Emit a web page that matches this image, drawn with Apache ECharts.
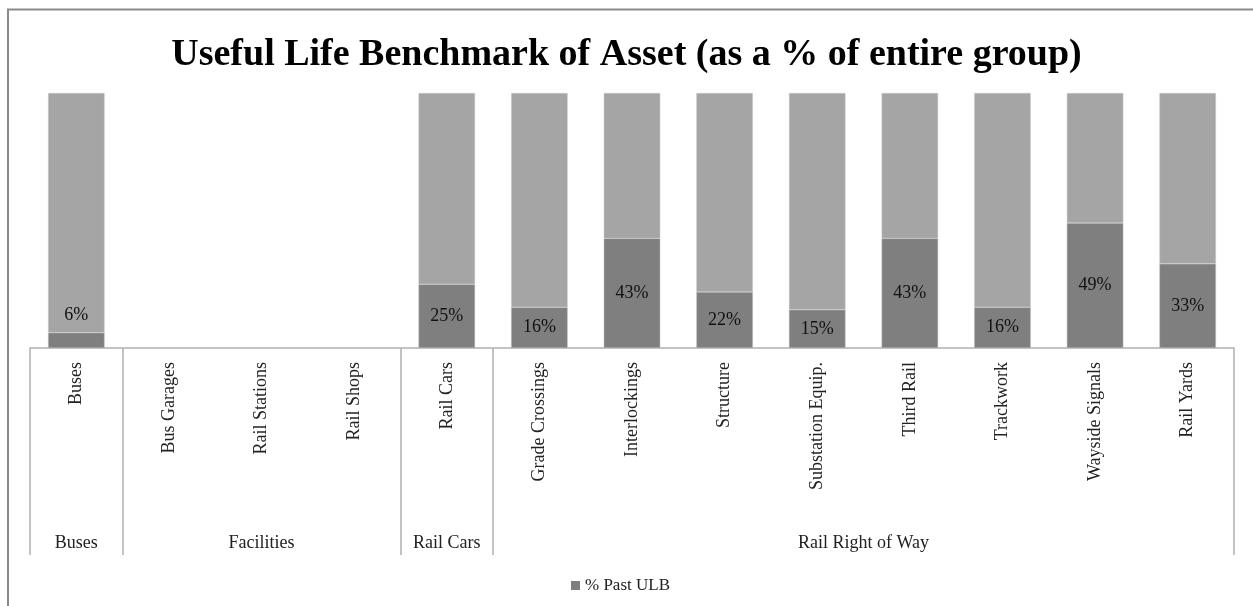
<!DOCTYPE html>
<html>
<head>
<meta charset="utf-8">
<title>Useful Life Benchmark of Asset</title>
<script src="https://cdn.jsdelivr.net/npm/echarts@6/dist/echarts.min.js"></script>
<style>
    html, body { margin: 0; padding: 0; background: #fff; }
    #chart { width: 1253px; height: 606px; }
</style>
</head>
<body>
<div id="chart"></div>
<script>
// asset categories, left to right
const categories = ['Buses', 'Bus Garages', 'Rail Stations', 'Rail Shops', 'Rail Cars',
    'Grade Crossings', 'Interlockings', 'Structure', 'Substation Equip.', 'Third Rail',
    'Trackwork', 'Wayside Signals', 'Rail Yards'];
// % past ULB (null = no data, facilities)
const pastUlb = [6, null, null, null, 25, 16, 43, 22, 15, 43, 16, 49, 33];
// groups under the categories
const groupNames = ['Buses', 'Facilities', 'Rail Cars', 'Rail Right of Way'];
const groupSizes = [1, 3, 1, 8];

const serif = '"Liberation Serif", "DejaVu Serif", serif';

// remainder up to 100% for the light grey part
const remainder = pastUlb.map(v => v === null ? null : 100 - v);

// second axis: 2 slots per category, labels on group centres, ticks on group edges
const halfSlots = [];
for (let i = 0; i <= categories.length * 2; i++) halfSlots.push('');
const edgeIdx = {};
let pos = 0;
edgeIdx[0] = true;
groupNames.forEach((name, i) => {
    halfSlots[pos + groupSizes[i]] = name;
    pos += groupSizes[i] * 2;
    edgeIdx[pos] = true;
});

const chart = echarts.init(document.getElementById('chart'));
const option = {
    animation: false,
    title: {
        text: 'Useful Life Benchmark of Asset (as a % of entire group)',
        left: 'center',
        top: 31,
        textStyle: { fontFamily: serif, fontSize: 38, fontWeight: 'bold', color: '#000' }
    },
    legend: {
        data: ['% Past ULB'],
        left: 566,
        top: 572,
        itemWidth: 9,
        itemHeight: 9,
        itemGap: 6,
        icon: 'rect',
        itemStyle: { borderWidth: 0 },
        textStyle: { fontFamily: serif, fontSize: 17, color: '#222' }
    },
    graphic: [
        { type: 'line', shape: { x1: 7, y1: 9.5, x2: 1253, y2: 9.5 }, style: { stroke: '#8a8a8a', lineWidth: 2 } },
        { type: 'line', shape: { x1: 8, y1: 9, x2: 8, y2: 606 }, style: { stroke: '#8a8a8a', lineWidth: 2 } }
    ],
    grid: { left: 30, right: 19, top: 93, bottom: 258 },
    xAxis: [
        {
            type: 'category',
            data: categories,
            axisLine: { lineStyle: { color: '#b0b0b0', width: 1.5 } },
            axisTick: { show: false },
            axisLabel: {
                rotate: 90,
                margin: 14,
                interval: 0,
                fontFamily: serif,
                fontSize: 18,
                color: '#222'
            }
        },
        {
            type: 'category',
            position: 'bottom',
            boundaryGap: false,
            data: halfSlots,
            axisLine: { show: false },
            axisTick: {
                show: true,
                inside: false,
                length: 207,
                interval: (idx) => !!edgeIdx[idx],
                lineStyle: { color: '#b0b0b0', width: 1.5 }
            },
            axisLabel: {
                interval: 0,
                margin: 186,
                fontFamily: serif,
                fontSize: 18,
                color: '#222'
            }
        }
    ],
    yAxis: {
        type: 'value',
        min: 0,
        max: 100,
        show: false,
        splitLine: { show: false }
    },
    series: [
        {
            name: '% Past ULB',
            type: 'bar',
            stack: 'total',
            xAxisIndex: 0,
            barWidth: '61%',
            itemStyle: { color: '#7f7f7f', borderColor: '#bdbdbd', borderWidth: 0.5 },
            label: {
                show: true,
                position: 'inside',
                formatter: p => p.value + '%',
                fontFamily: serif,
                fontSize: 18,
                color: '#111'
            },
            data: pastUlb.map(v => (v !== null && v < 10)
                ? { value: v, label: { position: 'top', distance: 8 } }
                : v)
        },
        {
            name: 'Remainder',
            type: 'bar',
            stack: 'total',
            xAxisIndex: 0,
            barWidth: '61%',
            itemStyle: { color: '#a5a5a5', borderColor: '#c8c8c8', borderWidth: 0.5 },
            data: remainder
        }
    ]
};
chart.setOption(option);
</script>
</body>
</html>
